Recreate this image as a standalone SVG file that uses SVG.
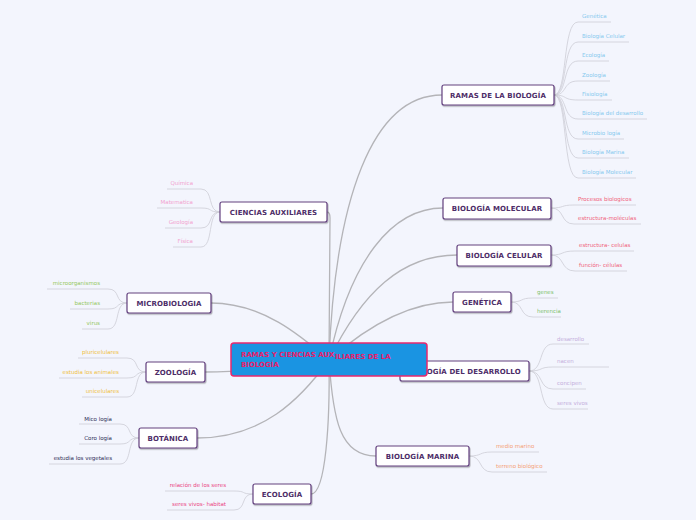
<svg xmlns="http://www.w3.org/2000/svg" width="696" height="520" viewBox="0 0 696 520">
<defs>
<filter id="sh" x="-10%" y="-20%" width="120%" height="150%"><feDropShadow dx="0.8" dy="1.2" stdDeviation="0.6" flood-color="#000" flood-opacity="0.3"/></filter>
</defs>
<style>
.main{fill:none;stroke:#b4b4b8;stroke-width:1.3}
.leaf{fill:none;stroke:#cdcdd6;stroke-width:0.8}
.box{fill:#fff;stroke:#63407f;stroke-width:1.2;filter:url(#sh)}
.nt{font-family:"DejaVu Sans",Verdana,sans-serif;font-weight:bold;font-size:7px;fill:#4d2d68;text-anchor:middle;letter-spacing:0.1px}
.lt{font-family:"DejaVu Sans",Verdana,sans-serif;font-size:5.5px}
.r{text-anchor:end}
.blue{fill:#86c9ee}.red{fill:#f0607a}.green{fill:#7cbf6a}.lav{fill:#c4aedc}.orange{fill:#f4a075}.pink{fill:#f2a2cf}.lime{fill:#95c860}.yel{fill:#f0c040}.navy{fill:#2d2d55}.mag{fill:#ea4482}
.ct{font-family:"DejaVu Sans",Verdana,sans-serif;font-weight:bold;font-size:7px;fill:#e8206a}
</style>
<rect width="696" height="520" fill="#f3f5fd"/>
<g id="connectors">
<path class="main" d="M329,360 C335,200 372,95 442,95"/>
<path class="main" d="M329,360 C350,260 392,208 443,208"/>
<path class="main" d="M329,360 C362,292 402,255 457,255"/>
<path class="main" d="M329,360 C372,322 412,302 453,302"/>
<path class="main" d="M329,360 L400,371"/>
<path class="main" d="M329,360 C333,420 340,456 376,456"/>
<path class="main" d="M329,360 C330,420 326,494 311,494"/>
<path class="main" d="M329,360 L330,218 Q330,212 327,212"/>
<path class="main" d="M329,360 C300,335 262,303 211,303"/>
<path class="main" d="M329,360 C290,365 250,372 205,372"/>
<path class="main" d="M329,360 C300,400 262,438 197,438"/>
<path class="leaf" d="M554,95 C568,95 562,22 578,22 H611"/>
<path class="leaf" d="M554,95 C568,95 562,42 578,42 H629"/>
<path class="leaf" d="M554,95 C568,95 562,61 578,61 H609"/>
<path class="leaf" d="M554,95 C568,95 562,81 578,81 H610"/>
<path class="leaf" d="M554,95 C568,95 562,100 578,100 H612"/>
<path class="leaf" d="M554,95 C568,95 562,119 578,119 H647"/>
<path class="leaf" d="M554,95 C568,95 562,139 578,139 H624"/>
<path class="leaf" d="M554,95 C568,95 562,158 578,158 H629"/>
<path class="leaf" d="M554,95 C568,95 562,178 578,178 H636"/>
<path class="leaf" d="M551,208 C565,208 560,205 574,205 H636"/>
<path class="leaf" d="M551,208 C565,208 560,224 574,224 H641"/>
<path class="leaf" d="M551,255 C565,255 560,251 575,251 H634"/>
<path class="leaf" d="M551,255 C565,255 560,271 575,271 H627"/>
<path class="leaf" d="M511,302 C524,302 519,298 533,298 H558"/>
<path class="leaf" d="M511,302 C524,302 519,317 533,317 H561"/>
<path class="leaf" d="M529,371 C544,371 538,344 553,344 H589"/>
<path class="leaf" d="M529,371 C544,371 538,367 553,367 H609"/>
<path class="leaf" d="M529,371 C544,371 538,389 553,389 H586"/>
<path class="leaf" d="M529,371 C544,371 538,409 553,409 H588"/>
<path class="leaf" d="M469,456 C483,456 478,452 492,452 H539"/>
<path class="leaf" d="M469,456 C483,456 478,472 492,472 H547"/>
<path class="leaf" d="M220,212 C207,212 214,189 201,189 H167"/>
<path class="leaf" d="M220,212 C207,212 214,208 201,208 H157"/>
<path class="leaf" d="M220,212 C207,212 214,228 201,228 H165"/>
<path class="leaf" d="M220,212 C207,212 214,247 201,247 H173"/>
<path class="leaf" d="M127,303 C114,303 121,289 108,289 H47"/>
<path class="leaf" d="M127,303 C114,303 121,309 108,309 H70"/>
<path class="leaf" d="M127,303 C114,303 121,329 108,329 H82"/>
<path class="leaf" d="M146,372 C133,372 140,358 127,358 H78"/>
<path class="leaf" d="M146,372 C133,372 140,378 127,378 H59"/>
<path class="leaf" d="M146,372 C133,372 140,397 127,397 H82"/>
<path class="leaf" d="M139,438 C126,438 133,424 120,424 H79"/>
<path class="leaf" d="M139,438 C126,438 133,444 120,444 H79"/>
<path class="leaf" d="M139,438 C126,438 133,464 120,464 H49"/>
<path class="leaf" d="M253,494 C240,494 247,491 234,491 H165"/>
<path class="leaf" d="M253,494 C240,494 247,510 234,510 H167"/>
</g>
<g id="n-ramas">
<rect class="box" x="442" y="85" width="112" height="20" rx="2"/>
<text class="nt" x="498" y="97.5">RAMAS DE LA BIOLOGÍA</text>
<text class="lt blue" x="582" y="18">Genética</text>
<text class="lt blue" x="582" y="38">Biología Celular</text>
<text class="lt blue" x="582" y="57">Ecología</text>
<text class="lt blue" x="582" y="77">Zoología</text>
<text class="lt blue" x="582" y="96">Fisiología</text>
<text class="lt blue" x="582" y="115">Biología del desarrollo</text>
<text class="lt blue" x="582" y="135">Microbio logía</text>
<text class="lt blue" x="582" y="154">Biología Marina</text>
<text class="lt blue" x="582" y="174">Biología Molecular</text>
</g>
<g id="n-molecular">
<rect class="box" x="443" y="198" width="108" height="21" rx="2"/>
<text class="nt" x="497" y="211">BIOLOGÍA MOLECULAR</text>
<text class="lt red" x="578" y="201">Procesos biologicos</text>
<text class="lt red" x="578" y="220">estructura-moléculas</text>
</g>
<g id="n-celular">
<rect class="box" x="457" y="245" width="94" height="21" rx="2"/>
<text class="nt" x="504" y="258">BIOLOGÍA CELULAR</text>
<text class="lt red" x="579" y="247">estructura- celulas</text>
<text class="lt red" x="579" y="267">función- células</text>
</g>
<g id="n-genetica">
<rect class="box" x="453" y="292" width="58" height="20" rx="2"/>
<text class="nt" x="482" y="304.5">GENÉTICA</text>
<text class="lt green" x="537" y="294">genes</text>
<text class="lt green" x="537" y="313">herencia</text>
</g>
<g id="n-desarrollo">
<rect class="box" x="400" y="361" width="129" height="20" rx="2"/>
<text class="nt" x="464.5" y="373.5">BIOLOGÍA DEL DESARROLLO</text>
<text class="lt lav" x="557" y="341">desarrollo</text>
<text class="lt lav" x="557" y="363">nacen</text>
<text class="lt lav" x="557" y="385">concipen</text>
<text class="lt lav" x="557" y="405">seres vivos</text>
</g>
<g id="n-marina">
<rect class="box" x="376" y="446" width="93" height="20" rx="2"/>
<text class="nt" x="422.5" y="458.5">BIOLOGÍA MARINA</text>
<text class="lt orange" x="496" y="448">medio marino</text>
<text class="lt orange" x="496" y="468">terreno biológico</text>
</g>
<g id="n-ciencias">
<rect class="box" x="220" y="202" width="107" height="20" rx="2"/>
<text class="nt" x="273.5" y="214.5">CIENCIAS AUXILIARES</text>
<text class="lt pink r" x="193" y="185">Química</text>
<text class="lt pink r" x="193" y="204">Matematica</text>
<text class="lt pink r" x="193" y="224">Geología</text>
<text class="lt pink r" x="193" y="243">Física</text>
</g>
<g id="n-micro">
<rect class="box" x="127" y="293" width="84" height="20" rx="2"/>
<text class="nt" x="169" y="305.5">MICROBIOLOGIA</text>
<text class="lt lime r" x="100" y="285">microorganismos</text>
<text class="lt lime r" x="100" y="305">bacterias</text>
<text class="lt lime r" x="100" y="325">virus</text>
</g>
<g id="n-zoologia">
<rect class="box" x="146" y="362" width="59" height="20" rx="2"/>
<text class="nt" x="175.5" y="374.5">ZOOLOGÍA</text>
<text class="lt yel r" x="119" y="354">pluricelulares</text>
<text class="lt yel r" x="119" y="374">estudia los animales</text>
<text class="lt yel r" x="119" y="393">unicelulares</text>
</g>
<g id="n-botanica">
<rect class="box" x="139" y="428" width="58" height="20" rx="2"/>
<text class="nt" x="168" y="440.5">BOTÁNICA</text>
<text class="lt navy r" x="112" y="421">Mico logía</text>
<text class="lt navy r" x="112" y="440">Coro logía</text>
<text class="lt navy r" x="112" y="460">estudia los vegetales</text>
</g>
<g id="n-ecologia">
<rect class="box" x="253" y="484" width="58" height="20" rx="2"/>
<text class="nt" x="282" y="496.5">ECOLOGÍA</text>
<text class="lt mag r" x="226" y="487">relación de los seres</text>
<text class="lt mag r" x="226" y="506">seres vivos- habitat</text>
</g>
<g id="n-central">
<rect x="231" y="343" width="196" height="33" rx="3" fill="#1a94e2" stroke="#e8286e" stroke-width="1.5"/>
<text class="ct" x="241" y="357">RAMAS Y CIENCIAS AUX</text>
<text class="ct" x="335" y="358.5">ILIARES DE LA</text>
<text class="ct" x="241" y="367">BIOLOGÍA</text>
</g>
</svg>
